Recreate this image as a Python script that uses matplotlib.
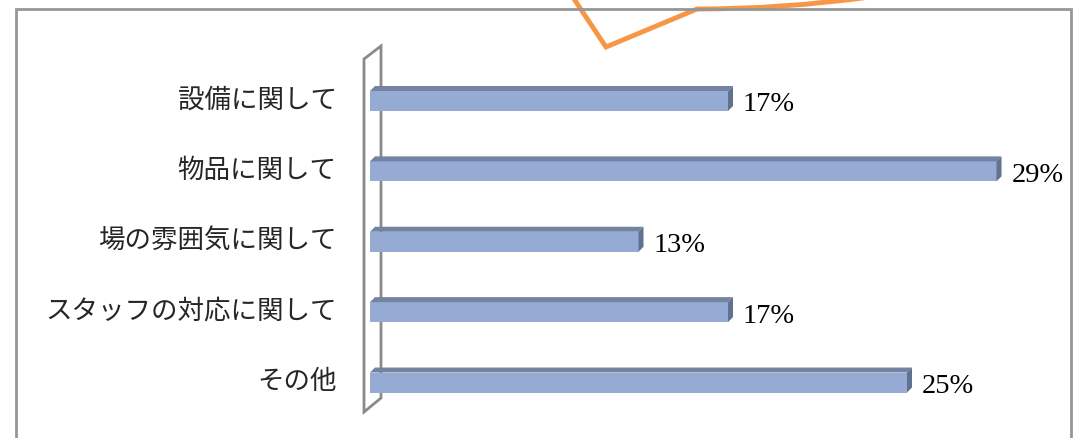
import numpy as np
import matplotlib
matplotlib.use('Agg')
import matplotlib.pyplot as plt
from matplotlib.patches import Polygon
from matplotlib.path import Path
from matplotlib.patches import PathPatch

# answers per category (24 in total)
categories = ['設備に関して', '物品に関して', '場の雰囲気に関して', 'スタッフの対応に関して', 'その他']
counts = np.array([4, 7, 3, 4, 6])
pct = counts / counts.sum() * 100
labels = ['{}%'.format(int(p + 0.5)) for p in pct]

W, H = 1082, 438
fig = plt.figure(figsize=(W / 100, H / 100), dpi=100)
fig.patch.set_facecolor('white')

# background layer in pixel coords: frame, callout tail, chart wall
bg = fig.add_axes([0, 0, 1, 1])
bg.set_xlim(0, W)
bg.set_ylim(H, 0)
bg.axis('off')

frame_col = '#969696'
bg.plot([16, 16, 1071, 1071], [H + 5, 9, 9, H + 5], color=frame_col, lw=2.0,
        solid_joinstyle='miter')

verts = [(572, -4), (606, 47), (697, 9), (783, 9), (870, -3)]
codes = [Path.MOVETO, Path.LINETO, Path.LINETO, Path.CURVE3, Path.CURVE3]
bg.add_patch(PathPatch(Path(verts, codes), fill=False, edgecolor='#F79646', lw=3.5,
                       joinstyle='miter', capstyle='butt'))

wall = Polygon([(364, 59), (381, 46), (381, 398), (364, 412)], closed=True,
               facecolor='white', edgecolor='#8A8A8A', lw=2.0)
bg.add_patch(wall)

# bar chart area: x = 0 sits at pixel 370, 21.48 px per percent
px_per_pct = 21.48
xmax = 32
top_px, bot_px = 65.8, 417.7
ax = fig.add_axes([370 / W, (H - bot_px) / H, xmax * px_per_pct / W, (bot_px - top_px) / H])
ax.patch.set_alpha(0)
ax.set_xlim(0, xmax)
ax.set_ylim(len(categories) - 0.5, -0.5)
for s in ax.spines.values():
    s.set_visible(False)
ax.set_xticks([])

y = np.arange(len(categories))
bh = 20 / 70.4
dx = 5 / px_per_pct
dy = 5 / 70.4

front = '#95ABD4'
topc = '#7383A1'
side = '#617190'
ax.barh(y, pct, height=bh, color=front, edgecolor='none', zorder=2)
for yi, v in zip(y, pct):
    t = yi - bh / 2
    b = yi + bh / 2
    ax.add_patch(Polygon([(0, t), (v, t), (v + dx, t - dy), (dx, t - dy)],
                         closed=True, facecolor=topc, edgecolor='none', zorder=2))
    ax.add_patch(Polygon([(v, t), (v + dx, t - dy), (v + dx, b - dy), (v, b)],
                         closed=True, facecolor=side, edgecolor='none', zorder=2))

for yi, v, lab in zip(y, pct, labels):
    ax.annotate(lab, xy=(v, yi), xytext=(15, -4), textcoords='offset pixels',
                va='center', ha='left', fontsize=20.5, family='Liberation Serif',
                color='black')

ax.set_yticks(y - 0.06)
ax.set_yticklabels(categories, family=['Noto Sans CJK JP', 'DejaVu Sans'],
                   fontsize=19.1, color='#262626')
ax.tick_params(axis='y', length=0, pad=24)

fig.savefig('out.png', dpi=100)
